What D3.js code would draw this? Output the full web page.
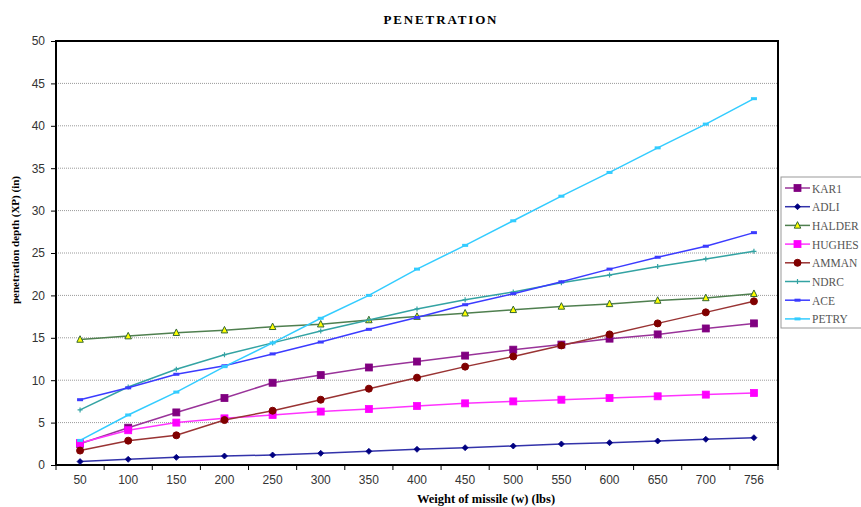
<!DOCTYPE html>
<html><head><meta charset="utf-8">
<script src="https://cdn.jsdelivr.net/npm/d3@7"></script>
<style>body{margin:0;background:#fff}svg{display:block}</style>
</head><body><div id="chart"></div>
<script>
const categories = ["50","100","150","200","250","300","350","400","450","500","550","600","650","700","756"];
const yTicks = [0,5,10,15,20,25,30,35,40,45,50];
const seriesNames = ["KAR1","ADLI","HALDER","HUGHES","AMMAN","NDRC","ACE","PETRY"];
const KAR1   = [2.5,4.4,6.2,7.9,9.7,10.6,11.5,12.2,12.9,13.6,14.2,14.9,15.4,16.1,16.7];
const ADLI   = [0.4,0.67,0.9,1.06,1.18,1.38,1.61,1.85,2.04,2.24,2.48,2.63,2.83,3.03,3.22];
const HALDER = [14.8,15.2,15.6,15.9,16.3,16.6,17.1,17.5,17.9,18.3,18.7,19.0,19.4,19.7,20.2];
const HUGHES = [2.6,4.1,5.0,5.5,5.9,6.3,6.6,6.96,7.27,7.5,7.7,7.9,8.1,8.3,8.5];
const AMMAN  = [1.7,2.87,3.5,5.3,6.4,7.7,9.0,10.3,11.6,12.8,14.1,15.4,16.7,18.0,19.3];
const NDRC   = [6.5,9.2,11.3,13.0,14.4,15.8,17.1,18.4,19.5,20.4,21.5,22.4,23.4,24.3,25.2];
const ACE    = [7.7,9.1,10.7,11.7,13.1,14.5,16.0,17.4,18.9,20.2,21.6,23.1,24.5,25.8,27.4];
const PETRY  = [2.9,5.9,8.6,11.6,14.4,17.3,20.0,23.1,25.9,28.8,31.7,34.5,37.4,40.2,43.2];
const seriesValues = [KAR1,ADLI,HALDER,HUGHES,AMMAN,NDRC,ACE,PETRY];

const styles = [
  {line:"#993399", fill:"#800080", stroke:"#800080", shape:"square", size:7},
  {line:"#3333aa", fill:"#000080", stroke:"#000080", shape:"diamond", size:5},
  {line:"#4f7f4f", fill:"#ffff00", stroke:"#336633", shape:"triangle", size:5.5},
  {line:"#ff33ff", fill:"#ff00ff", stroke:"#ff00ff", shape:"square", size:7},
  {line:"#993333", fill:"#800000", stroke:"#800000", shape:"circle", size:7},
  {line:"#33a3a3", fill:"#33a3a3", stroke:"#33a3a3", shape:"plus", size:5},
  {line:"#3b3bff", fill:"#3b3bff", stroke:"#3b3bff", shape:"dash", size:5},
  {line:"#33ccff", fill:"#33ccff", stroke:"#33ccff", shape:"dash", size:5}
];

const W = 861, H = 507;
const M = {left:56, right:778, top:41, bottom:465};
const svg = d3.select("#chart").append("svg").attr("width",W).attr("height",H);

const x = d3.scaleBand().domain(categories).range([M.left, M.right]);
const y = d3.scaleLinear().domain([0,50]).range([M.bottom, M.top]);
const cx = c => x(c) + x.bandwidth()/2;

// gridlines
svg.append("g").selectAll("line").data(yTicks.filter(t=>t>0&&t<50)).join("line")
  .attr("x1",M.left).attr("x2",M.right).attr("y1",d=>y(d)).attr("y2",d=>y(d))
  .attr("stroke","#9a9a9a").attr("stroke-width",1).attr("stroke-dasharray","1,1");

// y axis
const yAxis = svg.append("g").attr("transform",`translate(${M.left},0)`)
  .call(d3.axisLeft(y).tickValues(yTicks).tickSize(5).tickPadding(6));
yAxis.select(".domain").remove();
yAxis.selectAll("line").attr("stroke","#000");
yAxis.selectAll("text").attr("font-family","Arial, 'Liberation Sans', sans-serif").attr("font-size","12px").attr("fill","#333");

// x axis ticks at band boundaries
const boundaries = categories.map(c=>x(c)).concat([M.right]);
svg.append("g").selectAll("line").data(boundaries).join("line")
  .attr("x1",d=>d).attr("x2",d=>d).attr("y1",M.bottom).attr("y2",M.bottom+5)
  .attr("stroke","#000");
svg.append("g").selectAll("text").data(categories).join("text")
  .attr("x",d=>cx(d)).attr("y",M.bottom+19).attr("text-anchor","middle")
  .attr("font-family","Arial, 'Liberation Sans', sans-serif").attr("font-size","12px").attr("fill","#333")
  .text(d=>d);

// frame
svg.append("rect").attr("x",M.left).attr("y",M.top).attr("width",M.right-M.left).attr("height",M.bottom-M.top)
  .attr("fill","none").attr("stroke","#000").attr("stroke-width",2);

function drawMarker(g, st, px, py) {
  const s = st.size;
  if (st.shape==="square") {
    g.append("rect").attr("x",px-s/2).attr("y",py-s/2).attr("width",s).attr("height",s)
      .attr("fill",st.fill).attr("stroke",st.stroke).attr("stroke-width",0.8);
  } else if (st.shape==="circle") {
    g.append("circle").attr("cx",px).attr("cy",py).attr("r",s/2).attr("fill",st.fill).attr("stroke",st.stroke);
  } else if (st.shape==="diamond") {
    g.append("path").attr("d",`M${px},${py-s/2-0.5}L${px+s/2+0.5},${py}L${px},${py+s/2+0.5}L${px-s/2-0.5},${py}Z`)
      .attr("fill",st.fill).attr("stroke",st.stroke).attr("stroke-width",0.8);
  } else if (st.shape==="triangle") {
    g.append("path").attr("d",`M${px},${py-s/2-1}L${px+s/2+0.5},${py+s/2}L${px-s/2-0.5},${py+s/2}Z`)
      .attr("fill",st.fill).attr("stroke",st.stroke).attr("stroke-width",1);
  } else if (st.shape==="plus") {
    g.append("path").attr("d",`M${px-s/2},${py}H${px+s/2}M${px},${py-s/2}V${py+s/2}`)
      .attr("stroke",st.stroke).attr("stroke-width",1.2);
  } else if (st.shape==="dash") {
    g.append("rect").attr("x",px-3).attr("y",py-1.5).attr("width",6).attr("height",3).attr("fill",st.fill);
  }
}

// series
const line = d3.line().x((d,i)=>cx(categories[i])).y(d=>y(d));
seriesValues.forEach((vals,si)=>{
  const st = styles[si];
  const g = svg.append("g");
  g.append("path").attr("d",line(vals)).attr("fill","none").attr("stroke",st.line).attr("stroke-width",1.5);
  vals.forEach((v,i)=>drawMarker(g, st, cx(categories[i]), y(v)));
});

// legend
const lg = svg.append("g");
lg.append("rect").attr("x",781).attr("y",177).attr("width",100).attr("height",151)
  .attr("fill","#fff").attr("stroke","#999").attr("stroke-width",1);
seriesNames.forEach((n,i)=>{
  const st = styles[i];
  const ly = 188 + i*18.7;
  lg.append("line").attr("x1",785).attr("x2",810).attr("y1",ly).attr("y2",ly).attr("stroke",st.line).attr("stroke-width",1.5);
  drawMarker(lg, st, 797.5, ly);
  lg.append("text").attr("x",812).attr("y",ly+4.5).attr("font-family","'Liberation Serif', 'Times New Roman', serif")
    .attr("font-size","11.5px").attr("fill","#555").text(n);
});

// titles
svg.append("text").attr("x",440).attr("y",24).attr("text-anchor","middle")
  .attr("font-family","'Liberation Serif', 'Times New Roman', serif").attr("font-weight","bold").attr("font-size","13px")
  .attr("textLength",113).attr("lengthAdjust","spacing")
  .text("PENETRATION");
svg.append("text").attr("x",486).attr("y",503).attr("text-anchor","middle")
  .attr("font-family","'Liberation Serif', 'Times New Roman', serif").attr("font-weight","bold").attr("font-size","12.5px")
  .text("Weight of missile (w) (lbs)");
svg.append("text").attr("transform","translate(19,240) rotate(-90)").attr("text-anchor","middle")
  .attr("font-family","'Liberation Serif', 'Times New Roman', serif").attr("font-weight","bold").attr("font-size","11px")
  .text("penetration depth (XP) (in)");
</script></body></html>
